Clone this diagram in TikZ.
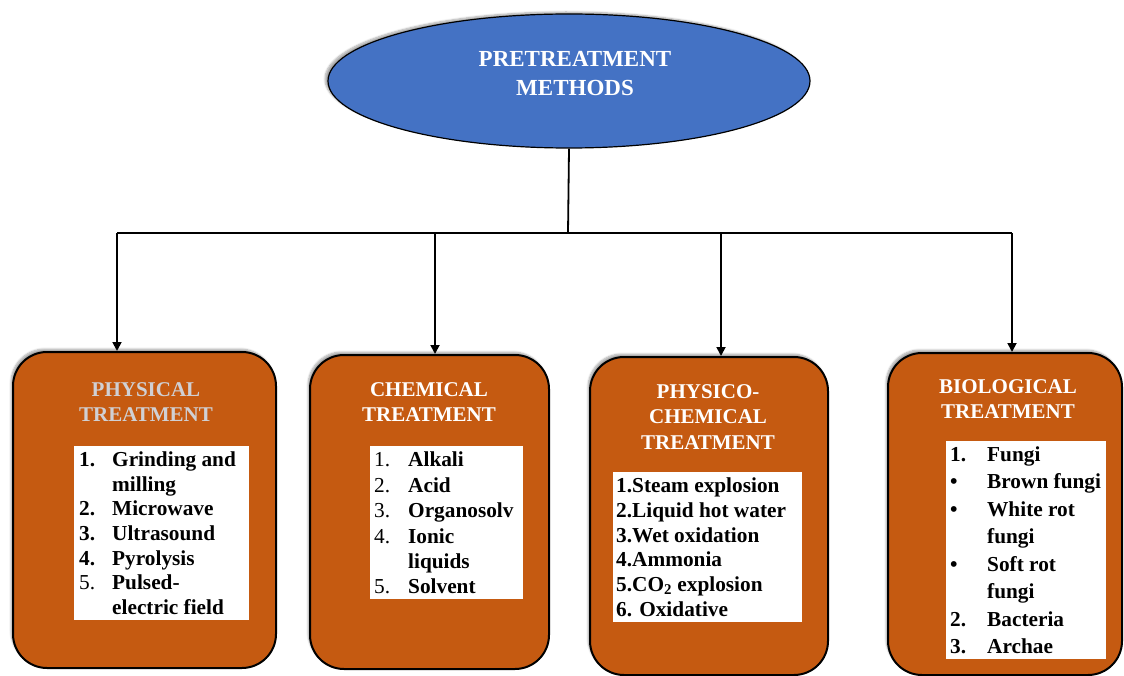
\documentclass[tikz,border=0pt]{standalone}
\usepackage{fontspec}
\setmainfont{Liberation Serif}
\usetikzlibrary{shapes.geometric,arrows.meta,shadows.blur}
\definecolor{ovalblue}{HTML}{4472C4}
\definecolor{boxorange}{HTML}{C55A11}
\definecolor{titlegray}{HTML}{D0D0D4}
\newcommand{\listsize}[1]{\fontsize{21.3}{#1}\selectfont\bfseries}
\tikzset{
  rootoval/.style={ellipse, draw=black, line width=1.2pt, fill=ovalblue,
    minimum width=482pt, minimum height=134pt, inner sep=0pt,
    blur shadow={shadow xshift=-3pt, shadow yshift=2pt, shadow blur steps=6, shadow opacity=35}},
  roottext/.style={text=white, font=\fontsize{23}{29}\selectfont\bfseries, align=center},
  catbox/.style={rectangle, rounded corners=34pt, draw=black, line width=2pt, fill=boxorange,
    inner sep=0pt,
    blur shadow={shadow xshift=-2pt, shadow yshift=3pt, shadow blur steps=6, shadow opacity=35}},
  cattitle/.style={text=white, font=\fontsize{21}{25.5}\selectfont\bfseries, align=center},
  listbox/.style={rectangle, fill=white, draw=none, inner sep=0pt, anchor=north west},
  listtext/.style={anchor=north west, inner sep=0pt},
  link/.style={draw=black, line width=1.8pt},
  arrowlink/.style={link, -{Triangle[length=9pt,width=9pt]}}
}
\begin{document}
\begin{tikzpicture}[x=1pt,y=-1pt]
\useasboundingbox (0,0) rectangle (1124,676);

% root
\node[rootoval] (root) at (569,81) {};
\node[roottext] (rootlabel) at (575,74) {PRETREATMENT\\METHODS};

% category boxes
\node[catbox, minimum width=263pt, minimum height=316pt] (b1) at (144.5,510) {};
\node[catbox, minimum width=239pt, minimum height=314pt] (b2) at (429.5,512) {};
\node[catbox, minimum width=238pt, minimum height=318pt] (b3) at (709,516) {};
\node[catbox, minimum width=234pt, minimum height=322pt] (b4) at (1005,514) {};

% connectors
\coordinate (hub) at (568,233);
\coordinate (h1) at (117,233);
\coordinate (h2) at (435,233);
\coordinate (h3) at (721,233);
\coordinate (h4) at (1012,233);
\draw[link] (root.south) -- (hub);
\draw[link] (h1) -- (h4);
\draw[arrowlink] (h1) -- (h1 |- b1.north);
\draw[arrowlink] (h2) -- (h2 |- b2.north);
\draw[arrowlink] (h3) -- (h3 |- b3.north);
\draw[arrowlink] (h4) -- (h4 |- b4.north);

% titles
\node[cattitle, text=titlegray] (t1) at (146,402) {PHYSICAL\\TREATMENT};
\node[cattitle] (t2) at (429,402) {CHEMICAL\\TREATMENT};
\node[cattitle] (t3) at (708,417) {PHYSICO-\\CHEMICAL\\TREATMENT};
\node[cattitle] (t4) at (1008,399) {BIOLOGICAL\\TREATMENT};

% white list boxes
\node[listbox, minimum width=175pt, minimum height=174pt] (w1) at (74,446) {};
\node[listbox, minimum width=153pt, minimum height=153pt] (w2) at (370,446) {};
\node[listbox, minimum width=189pt, minimum height=150pt] (w3) at (613,472) {};
\node[listbox, minimum width=160pt, minimum height=218pt] (w4) at (946,441) {};

% list texts
\node[listtext] (l1) at (79,449) {\listsize{24.7}\begin{tabular}{@{}p{33pt}@{}l@{}}
1. & Grinding and\\
   & milling\\
2. & Microwave\\
3. & Ultrasound\\
4. & Pyrolysis\\
\mdseries 5. & Pulsed-\\
   & electric field
\end{tabular}};
\node[listtext] (l2) at (374,449) {\listsize{25.4}\begin{tabular}{@{}p{34pt}@{}l@{}}
\mdseries 1. & Alkali\\
\mdseries 2. & Acid\\
\mdseries 3. & Organosolv\\
\mdseries 4. & Ionic\\
   & liquids\\
\mdseries 5. & Solvent
\end{tabular}};
\node[listtext] (l3) at (616,475) {\listsize{24.8}\begin{tabular}{@{}l@{}}
1.Steam explosion\\
2.Liquid hot water\\
3.Wet oxidation\\
4.Ammonia\\
5.CO\textsubscript{2} explosion\\
6. Oxidative
\end{tabular}};
\node[listtext] (l4) at (950,442) {\listsize{27.5}\begin{tabular}{@{}p{37pt}@{}l@{}}
1. & Fungi\\
\textbullet & Brown fungi\\
\textbullet & White rot\\
   & fungi\\
\textbullet & Soft rot\\
   & fungi\\
2. & Bacteria\\
3. & Archae
\end{tabular}};
\end{tikzpicture}
\end{document}
